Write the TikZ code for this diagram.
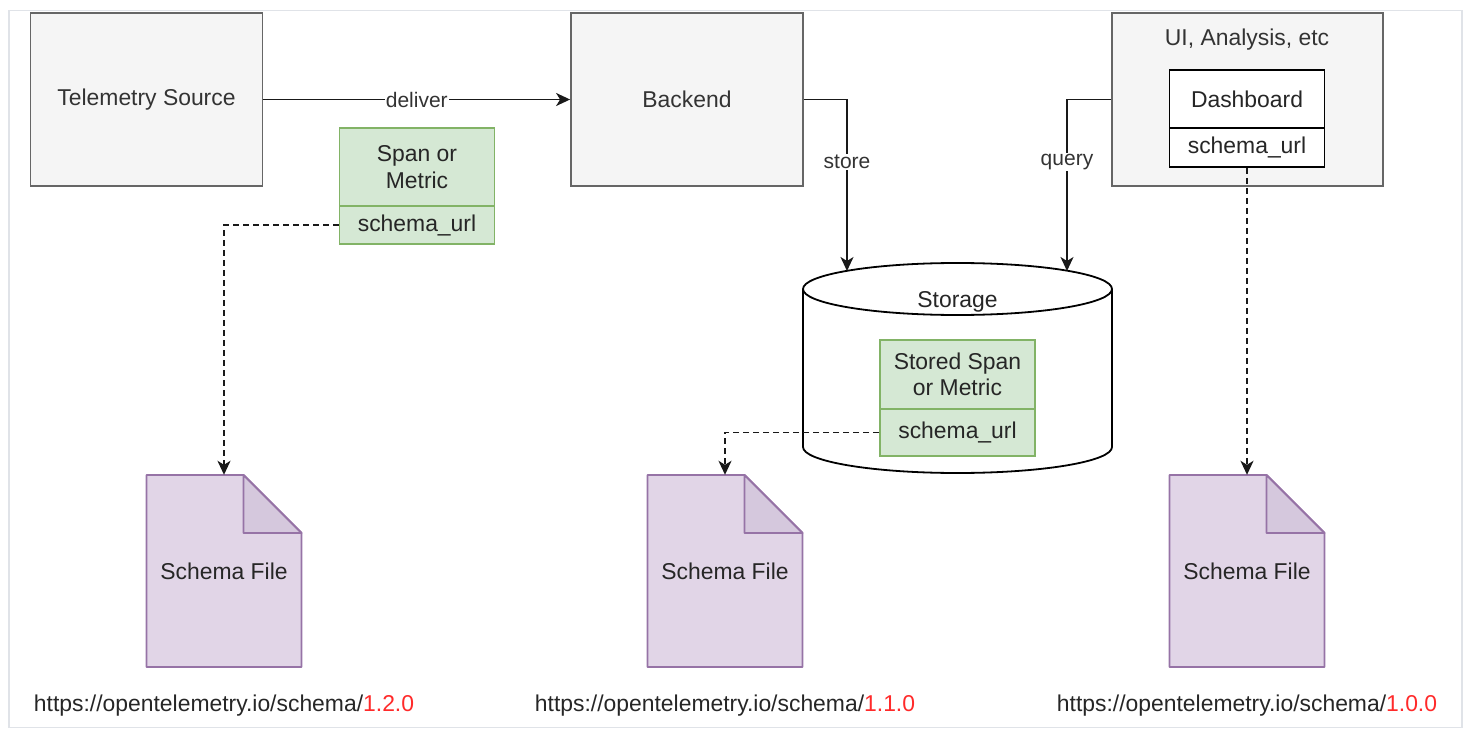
\documentclass[tikz,border=0pt]{standalone}
\usepackage{fontspec}
\setmainfont{Liberation Sans}
\usetikzlibrary{arrows.meta}
\definecolor{boxfill}{HTML}{F5F5F5}
\definecolor{boxline}{HTML}{666666}
\definecolor{boxtext}{HTML}{333333}
\definecolor{greenfill}{HTML}{D5E8D4}
\definecolor{greenline}{HTML}{82B366}
\definecolor{filefill}{HTML}{E1D5E7}
\definecolor{fileline}{HTML}{9673A6}
\definecolor{foldfill}{HTML}{D5C8DD}
\definecolor{urlred}{HTML}{FF2A2A}
\definecolor{framecol}{HTML}{E0E3E8}
\tikzset{
  every node/.style={font=\fontsize{22.9}{26.5}\selectfont, inner sep=0pt, align=center},
  graybox/.style={draw=boxline, fill=boxfill, text=boxtext, line width=1.8pt,
    minimum width=232pt, minimum height=173pt},
  greenbox/.style={draw=greenline, fill=greenfill, text=black!85, line width=1.8pt,
    minimum width=155pt},
  whitebox/.style={draw=black, fill=white, text=black!85, line width=1.8pt,
    minimum width=155pt},
  fileshape/.style={draw=fileline, fill=filefill, line width=1.8pt, line join=round},
  conn/.style={draw=black!90, line width=1.8pt, -{Stealth[length=14pt, width=13pt, inset=4pt]}},
  dashconn/.style={conn, dash pattern=on 6pt off 4pt},
  edgelabel/.style={font=\fontsize{21}{24}\selectfont, fill=white, text=boxtext, inner sep=1pt},
}

\begin{document}
\begin{tikzpicture}[x=1pt, y=-1pt]
  \useasboundingbox (0,0) rectangle (1475,738);
  \draw[framecol, line width=1.5pt] (9,10.5) rectangle (1462,727.5);

  % Top row
  \node[graybox] (source) at (146.5,99.5) {Telemetry Source};
  \node[graybox] (backend) at (687,99.5) {Backend};
  \node[graybox, minimum width=271pt] (ui) at (1247.5,99.5) {};
  \node[text=boxtext] (uilabel) at (1247,40) {UI, Analysis, etc};
  \node[whitebox, minimum height=58pt] (dash) at (1247,99) {Dashboard};
  \node[whitebox, minimum height=39pt] (dashurl) at (1247,147.5) {schema\_url};

  % Span on the wire
  \node[greenbox, minimum height=78pt] (span) at (417,167) {Span or\\Metric};
  \node[greenbox, minimum height=38pt] (spanurl) at (417,225) {schema\_url};

  % Storage
  \draw[line width=1.8pt, fill=white] (803,289) -- (803,447)
    arc[start angle=180, end angle=0, x radius=154.5, y radius=26] -- (1112,289);
  \draw[line width=1.8pt, fill=white] (957.5,289) ellipse [x radius=154.5, y radius=26];
  \node[text=black!85] (storage) at (957.5,302) {Storage};
  \coordinate (storein) at (847,271);
  \coordinate (queryin) at (1067,271);
  \node[greenbox, minimum height=69pt] (stored) at (957.5,374.5) {Stored Span\\or Metric};
  \node[greenbox, minimum height=47pt] (storedurl) at (957.5,432.5) {schema\_url};

  % Schema files
  \foreach \x/\v [count=\i] in {224/1.2.0, 725/1.1.0, 1247/1.0.0} {
    \draw[fileshape] (\x-77.5,475) -- (\x+19.5,475) -- (\x+77.5,533)
      -- (\x+77.5,667) -- (\x-77.5,667) -- cycle;
    \draw[fileshape, fill=foldfill] (\x+19.5,475) -- (\x+19.5,533) -- (\x+77.5,533) -- cycle;
    \node[text=black!85, minimum width=155pt, minimum height=192pt] (file\i) at (\x,571) {Schema File};
    \node[text=black!85] (url\i) at (\x,706) {https://opentelemetry.io/schema/\textcolor{urlred}{\v}};
  }

  % Connectors
  \draw[conn] (source) -- node[edgelabel] {deliver} (backend);
  \draw[conn] (backend.east) -| node[edgelabel, pos=0.683] {store} (storein);
  \draw[conn] (ui.west) -| node[edgelabel, pos=0.683] {query} (queryin);
  \draw[dashconn] (spanurl.west) -| (file1.north);
  \draw[dashconn] (storedurl.west) -| (file2.north);
  \draw[dashconn] (dashurl.south) -- (file3.north);
\end{tikzpicture}
\end{document}
